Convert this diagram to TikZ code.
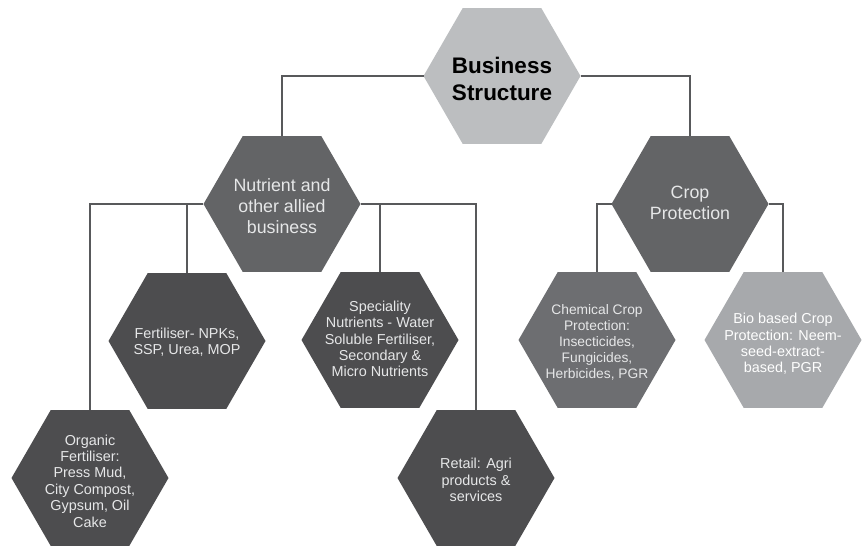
\documentclass[tikz,border=0pt]{standalone}
\usepackage{fontspec}
\setmainfont{Liberation Sans}
\usetikzlibrary{shapes.geometric}
\definecolor{cTop}{HTML}{BCBEC0}
\definecolor{cMid}{HTML}{636466}
\definecolor{cDark}{HTML}{4D4D4F}
\definecolor{cChem}{HTML}{6D6E71}
\definecolor{cBio}{HTML}{A7A9AC}
\definecolor{cLine}{HTML}{58595B}
\definecolor{cTxt}{HTML}{E6E7E8}
\tikzset{
  hex/.style={shape=regular polygon, regular polygon sides=6, minimum size=157pt,
    inner sep=0pt, outer sep=0pt, draw=none, fill=#1},
  lbl/.style={align=center, inner sep=0pt, text=cTxt},
  big/.style={lbl, font=\fontsize{17.8}{20.8}\selectfont},
  small/.style={lbl, font=\fontsize{14.4}{16.4}\selectfont},
  conn/.style={draw=cLine, line width=1.8pt}
}
\begin{document}
\begin{tikzpicture}[x=1pt,y=-1pt]
\useasboundingbox (0,0) rectangle (866,546);
% hexagons
\node[hex=cTop]  (bs)   at (502,76)  {};
\node[hex=cMid]  (nut)  at (282,204) {};
\node[hex=cMid]  (crop) at (690,204) {};
\node[hex=cDark] (fert) at (187,341) {};
\node[hex=cDark] (spec) at (380,340) {};
\node[hex=cDark] (org)  at (90,478)  {};
\node[hex=cDark] (ret)  at (476,478) {};
\node[hex=cChem] (chem) at (597,340) {};
\node[hex=cBio]  (bio)  at (783,340) {};
% connectors
\draw[conn] (bs.west) -| (nut.north);
\draw[conn] (bs.east) -| (crop.north);
\draw[conn] (nut.west) -| (org.north);
\draw[conn] (nut.west) -| (fert.north);
\draw[conn] (nut.east) -| (spec.north);
\draw[conn] (nut.east) -| (ret.north);
\draw[conn] (crop.west) -| (chem.north);
\draw[conn] (crop.east) -| (bio.north);
% labels
\node[lbl, text=black, font=\bfseries\fontsize{22.5}{27}\selectfont, yshift=-3pt] (bs-t) at (bs.center) {Business\\Structure};
\node[big, yshift=-2pt] (nut-t) at (nut.center) {Nutrient and\\other allied\\business};
\node[big, yshift=1pt] (crop-t) at (crop.center) {Crop\\Protection};
\node[small, yshift=-1pt] (fert-t) at (fert.center) {Fertiliser- NPKs,\\SSP, Urea, MOP};
\node[small, yshift=1pt] (spec-t) at (spec.center) {Speciality\\Nutrients - Water\\Soluble Fertiliser,\\Secondary \&\\Micro Nutrients};
\node[small, yshift=-3pt] (org-t) at (org.center) {Organic\\Fertiliser:\\Press Mud,\\City Compost,\\Gypsum, Oil\\Cake};
\node[small, yshift=-2pt] (ret-t) at (ret.center) {Retail: Agri\\products \&\\services};
\node[small, font=\fontsize{13.8}{16}\selectfont, yshift=-2pt] (chem-t) at (chem.center) {Chemical Crop\\Protection:\\Insecticides,\\Fungicides,\\Herbicides, PGR};
\node[small, text=white!95!cTxt, yshift=-4pt] (bio-t) at (bio.center) {Bio based Crop\\Protection: Neem-\\seed-extract-\\based, PGR};
\end{tikzpicture}
\end{document}
